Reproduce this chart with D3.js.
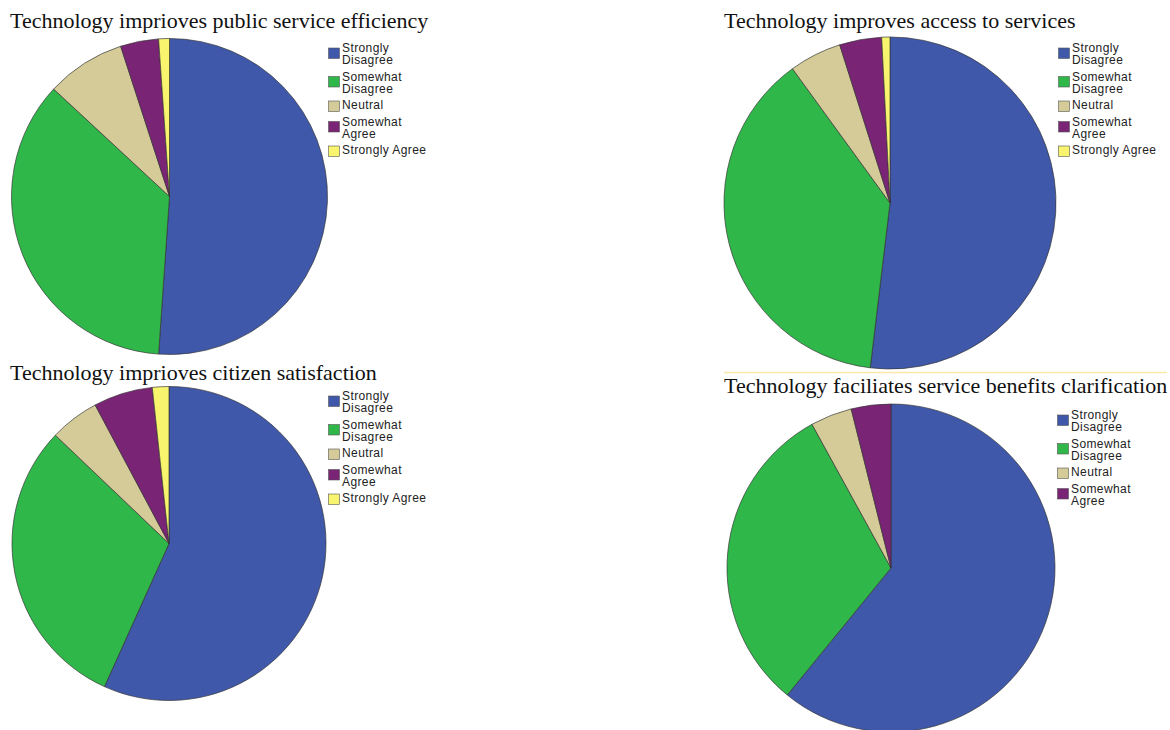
<!DOCTYPE html>
<html>
<head>
<meta charset="utf-8">
<script src="https://cdn.jsdelivr.net/npm/d3@7"></script>
<style>
  html, body { margin: 0; padding: 0; background: #fff; }
  svg { display: block; }
</style>
</head>
<body>
<div id="container"></div>
<script>
// Response categories, shared by all four pies
const categories = ["Strongly Disagree", "Somewhat Disagree", "Neutral", "Somewhat Agree", "Strongly Agree"];
// how the legend wraps each label
const legendLines = [["Strongly", "Disagree"], ["Somewhat", "Disagree"], ["Neutral"], ["Somewhat", "Agree"], ["Strongly Agree"]];
const colors = ["#3f58a9", "#2fb74a", "#d4cb98", "#7a2476", "#f9f46e"];

// percentages
const titles = [
  "Technology imprioves public service efficiency",
  "Technology improves access to services",
  "Technology imprioves citizen satisfaction",
  "Technology faciliates service benefits clarification"
];
const efficiencyValues = [51.1, 35.8, 8.1, 3.9, 1.1];
const accessValues = [51.9, 38.1, 5.1, 4.1, 0.8];
const satisfactionValues = [56.8, 30.4, 5.1, 6.1, 1.7];
const clarificationValues = [60.9, 31.1, 4.1, 3.9];

const W = 1170, H = 730;

// where each panel sits on the page
const panels = [
  { values: efficiencyValues,    tx: 10,  ty: 28,  cx: 169.5, cy: 196.5, r: 158, lx: 328,  ly: 43 },
  { values: accessValues,        tx: 724, ty: 28,  cx: 890,   cy: 203,   r: 166, lx: 1058, ly: 43 },
  { values: satisfactionValues,  tx: 10,  ty: 380, cx: 169,   cy: 543.5, r: 157, lx: 328,  ly: 391 },
  { values: clarificationValues, tx: 724, ty: 393, cx: 891,   cy: 568,   r: 164, lx: 1057, ly: 410 }
];

const svg = d3.select("#container").append("svg")
  .attr("width", W)
  .attr("height", H);

// faint yellow rule between the right-hand pies
svg.append("line")
  .attr("x1", 724).attr("x2", 1167)
  .attr("y1", 372.5).attr("y2", 372.5)
  .attr("stroke", "#fde7a6")
  .attr("stroke-width", 1.5);

const pie = d3.pie().sort(null).value(d => d);

panels.forEach((p, i) => {
  const g = svg.append("g");

  g.append("text")
    .attr("x", p.tx)
    .attr("y", p.ty)
    .attr("font-family", "'Liberation Serif', 'Times New Roman', serif")
    .attr("font-size", 22)
    .attr("fill", "#111")
    .text(titles[i]);

  const arc = d3.arc().innerRadius(0).outerRadius(p.r);

  g.append("g")
    .attr("transform", `translate(${p.cx},${p.cy})`)
    .selectAll("path")
    .data(pie(p.values))
    .enter().append("path")
      .attr("d", arc)
      .attr("fill", (d, j) => colors[j])
      .attr("stroke", "#333")
      .attr("stroke-opacity", 0.75)
      .attr("stroke-width", 0.9);

  // legend
  const lineH = 12;
  const gap = 4.5;
  let y = p.ly;
  p.values.forEach((v, j) => {
    const lines = legendLines[j];
    const blockH = lines.length * lineH;
    const mid = y + blockH / 2 - (lines.length > 1 ? 2 : 0);
    g.append("rect")
      .attr("x", p.lx + 0.5)
      .attr("y", mid - 5)
      .attr("width", 11)
      .attr("height", 10.5)
      .attr("fill", colors[j])
      .attr("stroke", "#555")
      .attr("stroke-width", 0.6);
    const t = g.append("text")
      .attr("font-family", "'Liberation Sans', Arial, sans-serif")
      .attr("font-size", 12)
      .attr("letter-spacing", 0.4)
      .attr("fill", "#222");
    lines.forEach((s, k) => {
      t.append("tspan")
        .attr("x", p.lx + 14)
        .attr("y", y + 9 + k * lineH)
        .text(s);
    });
    y += blockH + gap;
  });
});
</script>
</body>
</html>
